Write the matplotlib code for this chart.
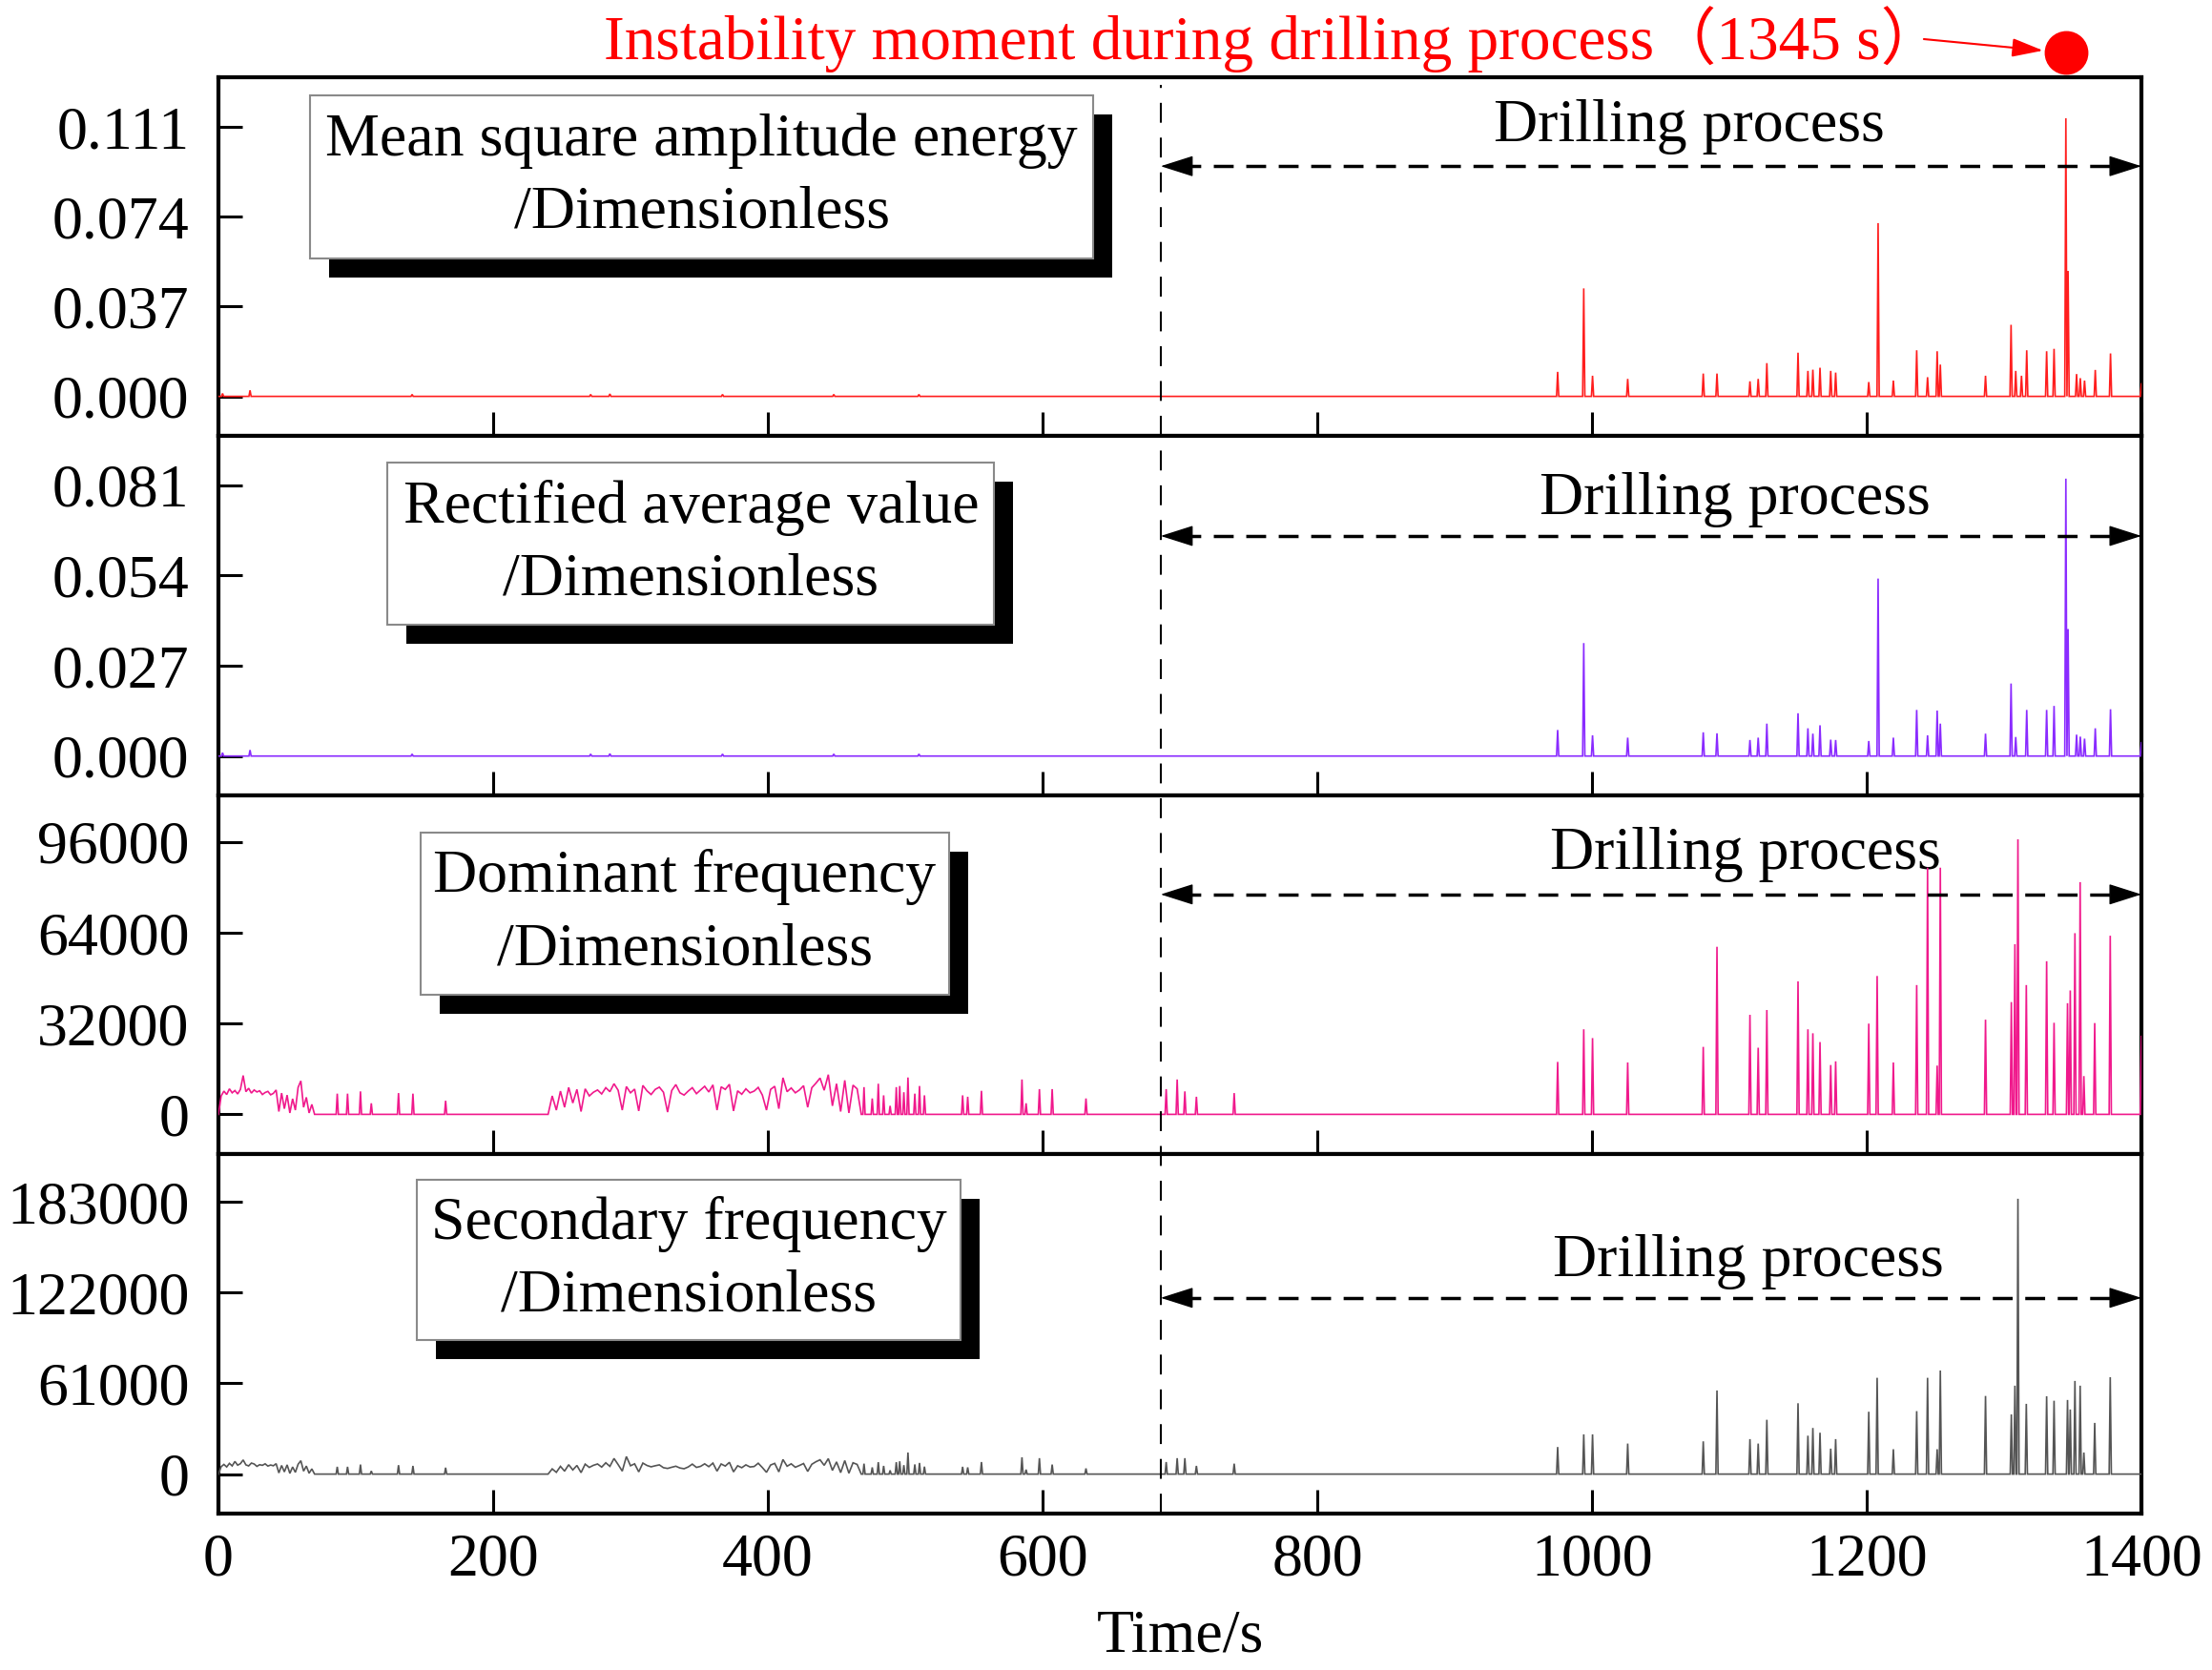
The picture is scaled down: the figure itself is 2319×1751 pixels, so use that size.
import numpy as np
import matplotlib
matplotlib.use("Agg")
import matplotlib.pyplot as plt
from matplotlib.patches import Rectangle
from matplotlib.lines import Line2D
from matplotlib import transforms

plt.rcParams['font.family'] = ['Liberation Serif', 'Noto Sans CJK SC']

# ---------------- data ----------------
x_ticks = [0, 200, 400, 600, 800, 1000, 1200, 1400]
drilling_start = 686
instability_time = 1345

panel_titles = ["Mean square amplitude energy\n/Dimensionless",
                "Rectified average value\n/Dimensionless",
                "Dominant frequency\n/Dimensionless",
                "Secondary frequency\n/Dimensionless"]
y_ticks = [[0, 0.037, 0.074, 0.111],
           [0, 0.027, 0.054, 0.081],
           [0, 32000, 64000, 96000],
           [0, 61000, 122000, 183000]]
y_ticklabels = [["0.000", "0.037", "0.074", "0.111"],
                ["0.000", "0.027", "0.054", "0.081"],
                ["0", "32000", "64000", "96000"],
                ["0", "61000", "122000", "183000"]]
y_limits = [(-0.01627, 0.1315), (-0.01178, 0.0958), (-13990, 112480), (-26530, 215040)]
line_colors = ["#FF1E1E", "#8A2BFF", "#F0198C", "#555555"]

# Early-stage small bumps (panels 1, 2)
early_t12 = [3, 23, 141, 271, 285, 367, 448, 510]
early_p1 = [0.0012, 0.0025, 0.0008, 0.0008, 0.0010, 0.0008, 0.0008, 0.0008]
early_p2 = [0.0010, 0.0018, 0.0006, 0.0006, 0.0007, 0.0006, 0.0006, 0.0006]

# Drilling-stage spikes (panels 1, 2)
drill_t12 = [975, 994, 1000.4, 1026, 1081, 1091, 1115, 1121, 1127.3, 1150, 1157.2, 1160.8,
             1166, 1173.8, 1177.4, 1201.5, 1208.3, 1219.4, 1236.4, 1244.3, 1251.3, 1253.6,
             1286.5, 1305.1, 1308.5, 1312.7, 1316.5, 1331, 1336.4, 1345, 1346.6, 1352.8,
             1355.5, 1358.6, 1366.4, 1377.5, 1400]
drill_p1 = [0.0101, 0.0445, 0.0085, 0.0072, 0.0094, 0.0094, 0.0062, 0.0072, 0.0137, 0.0180, 0.0105, 0.0110,
            0.0118, 0.0105, 0.0098, 0.0059, 0.0714, 0.0065, 0.0190, 0.0079, 0.0186, 0.0131,
            0.0085, 0.0295, 0.0105, 0.0085, 0.0190, 0.0186, 0.0196, 0.1146, 0.0517, 0.0092,
            0.0075, 0.0065, 0.0109, 0.0177, 0.0052]
drill_p2 = [0.0078, 0.0338, 0.0062, 0.0055, 0.0071, 0.0068, 0.0048, 0.0055, 0.0097, 0.0128, 0.0083, 0.0067,
            0.0092, 0.0049, 0.0048, 0.0045, 0.0531, 0.0055, 0.0138, 0.0062, 0.0136, 0.0097,
            0.0067, 0.0217, 0.0057, 0.0000, 0.0138, 0.0138, 0.0150, 0.0830, 0.0380, 0.0064,
            0.0058, 0.0052, 0.0083, 0.0140, 0.0040]

# Noisy stretches (panels 3, 4)
seg_a_t = np.arange(0, 71, 2)
seg_a_p3 = [0, 6500, 8200, 7000, 9000, 7600, 8400, 7200, 8800, 13700,
            8000, 9200, 7500, 8600, 7900, 8300, 7000, 7700, 8100, 6900,
            7400, 8600, 1000, 7500, 2000, 6800, 500, 5500, 1500, 9500,
            11800, 2500, 6000, 500, 3500, 0]
seg_a_p4 = [0, 5000, 6500, 4800, 7200, 5500, 8500, 6000, 7000, 9500,
            6200, 5500, 7400, 6800, 5200, 6300, 5900, 6900, 5400, 6100,
            5600, 7000, 800, 5800, 1500, 6200, 500, 4800, 1200, 6600,
            9000, 2000, 5400, 600, 3500, 0]
seg_b_t = np.arange(240, 469, 3)
seg_b_p3 = [0, 6500, 1500, 8200, 2500, 9500, 4000, 8800, 1000, 9000,
            6500, 7800, 8600, 7200, 9400, 8000, 10800, 8500, 1500, 9800,
            7600, 8900, 1200, 10200, 8300, 7000, 8800, 9600, 7800, 800,
            8400, 10500, 7600, 6800, 8200, 9400, 7300, 8600, 9900, 7900,
            10400, 1500, 9700, 8800, 10600, 1200, 8300, 7100, 9000, 7600,
            8200, 9500, 6800, 1500, 8800, 9900, 2000, 12900, 8000, 9300,
            7600, 8600, 10100, 2500, 9400, 11000, 12800, 8500, 14000, 3000,
            10800, 1000, 12000, 500, 10300, 9000, 0]
seg_b_p4 = [0, 3500, 1200, 5200, 2000, 6300, 2800, 5800, 1000, 6700,
            4500, 5900, 6800, 4700, 7600, 5200, 10500, 6400, 2000, 11800,
            5600, 6900, 1500, 7400, 5800, 4900, 5600, 6200, 4300, 3800,
            4600, 5300, 4100, 3600, 4800, 6700, 4500, 5200, 6900, 5000,
            7400, 2000, 6800, 5400, 7900, 1500, 5600, 4300, 6200, 4800,
            5100, 7300, 4400, 1200, 6100, 7200, 1500, 9800, 5300, 6900,
            4600, 5800, 7100, 1800, 6600, 8300, 9600, 5900, 10400, 2500,
            8200, 1000, 9100, 600, 7600, 6500, 0]

# Isolated spikes before drilling (panels 3, 4)
pre_t34 = [86.5, 94, 103.4, 111.3, 131.1, 141.6, 165.4, 470, 476, 480.4, 484.3, 489,
           493.5, 496, 499, 502, 507, 510.4, 514, 541.8, 545.5, 555.5, 585, 588, 597.7,
           607, 631.6, 690, 698, 703.6, 712, 739.5]
pre_p3 = [7300, 7300, 8100, 3900, 7500, 7300, 4800, 9600, 5600, 10800, 6700, 3000,
          9600, 10000, 7800, 13000, 7300, 10000, 6700, 6700, 6200, 8300, 12300, 3900, 8900,
          8900, 5600, 8900, 12300, 8100, 6200, 7500]
pre_p4 = [4900, 4900, 6400, 2100, 6000, 5500, 4300, 7000, 4500, 8000, 5500, 2500,
          8000, 8600, 6000, 14500, 6500, 7500, 5000, 4900, 4500, 8100, 11300, 3000, 10700,
          6400, 3800, 8100, 10700, 10700, 5500, 7000]

# Drilling-stage spikes (panels 3, 4)
drill_t34 = [975, 994, 1000.4, 1026, 1081, 1091, 1115, 1121, 1127.3, 1150, 1157.2, 1160.8,
             1166, 1173.8, 1177.4, 1201.5, 1207.6, 1219.4, 1236.4, 1244.3, 1251.3, 1253.6,
             1286.5, 1305.3, 1307.9, 1310.1, 1316.2, 1331, 1336.4, 1346.2, 1348.2, 1351.6,
             1355.4, 1358.1, 1366, 1377.3, 1400]
drill_p3 = [18500, 30000, 26900, 18300, 23800, 59100, 35100, 23500, 36800, 46900, 30000, 28600,
            25500, 17400, 18700, 32000, 48800, 18300, 45600, 87000, 17200, 87000,
            33400, 39600, 60000, 97000, 45600, 54000, 32300, 39200, 43700, 63900,
            81900, 13500, 32200, 63000, 27500]
drill_p4 = [18200, 26700, 26700, 20500, 22000, 56200, 23500, 20500, 36500, 47600, 25800, 31000,
            27800, 17100, 23500, 41900, 64700, 16700, 42300, 64700, 16700, 69600,
            52500, 40100, 59400, 185000, 47200, 52300, 49300, 49800, 43400, 62600,
            59400, 14500, 34400, 65100, 0]


def build_series(segments, spike_t, spike_v, half=0.8, t_end=1400.0):
    pts = [(0.0, 0.0)]
    for ts, vs in segments:
        pts += [(float(t), float(v)) for t, v in zip(ts, vs)]
    has_end = False
    for t, v in zip(spike_t, spike_v):
        if t >= t_end:
            pts += [(t - half, 0.0), (t, float(v))]
            has_end = True
        else:
            pts += [(t - half, 0.0), (t, float(v)), (t + half, 0.0)]
    if not has_end:
        pts.append((t_end, 0.0))
    pts.sort(key=lambda p: p[0])
    arr = np.array(pts)
    return arr[:, 0], arr[:, 1]


series = [
    build_series([], early_t12 + drill_t12, early_p1 + drill_p1),
    build_series([], early_t12 + drill_t12, early_p2 + drill_p2),
    build_series([(seg_a_t, seg_a_p3), (seg_b_t, seg_b_p3)], pre_t34 + drill_t34, pre_p3 + drill_p3),
    build_series([(seg_a_t, seg_a_p4), (seg_b_t, seg_b_p4)], pre_t34 + drill_t34, pre_p4 + drill_p4),
]

# ---------------- layout ----------------
W, H = 2319, 1751
fig = plt.figure(figsize=(W / 100, H / 100), dpi=100)
fig.patch.set_facecolor("white")
L, R = 229 / W, 2245 / W
edges_px = [81, 457, 834, 1210, 1587]

box_pos = [(0.0477, 0.4549, 0.496, 0.949),
           (0.0880, 0.4035, 0.4745, 0.9255),
           (0.1050, 0.3800, 0.445, 0.8976),
           (0.1034, 0.3860, 0.482, 0.929)]
arrow_y = [0.752, 0.7216, 0.724, 0.600]
dp_text = [(1071, 0.862), (1104, 0.822), (1112, 0.836), (1114, 0.700)]

FS = 46
axes = []
for i in range(4):
    top = 1 - edges_px[i] / H
    bot = 1 - edges_px[i + 1] / H
    ax = fig.add_axes([L, bot, R - L, top - bot])
    axes.append(ax)
    t, v = series[i]
    ax.plot(t, v, color=line_colors[i], lw=1.2, zorder=3, solid_joinstyle='miter')
    ax.set_xlim(0, 1400)
    ax.set_ylim(*y_limits[i])
    ax.set_xticks(x_ticks)
    ax.set_yticks(y_ticks[i])
    ax.set_yticklabels(y_ticklabels[i])
    ax.tick_params(axis='both', direction='in', length=18, width=2.2, labelsize=FS,
                   top=False, right=False)
    ax.tick_params(axis='y', pad=22)
    ax.tick_params(axis='x', pad=15)
    if i < 3:
        ax.tick_params(axis='x', labelbottom=False)
    for sp in ax.spines.values():
        sp.set_linewidth(3)

    # label box with shadow
    bx0, bx1, by0, by1 = box_pos[i]
    sx, sy = 20 / 2016, 20 / 376
    ax.add_patch(Rectangle((bx0 + sx, by0 - sy), bx1 - bx0, by1 - by0, transform=ax.transAxes,
                           facecolor="black", edgecolor="none", zorder=5))
    ax.add_patch(Rectangle((bx0, by0), bx1 - bx0, by1 - by0, transform=ax.transAxes,
                           facecolor="white", edgecolor="#8a8a8a", lw=1.5, zorder=6))
    ax.text((bx0 + bx1) / 2, (by0 + by1) / 2, panel_titles[i], transform=ax.transAxes,
            ha='center', va='center', fontsize=FS, linespacing=1.41, zorder=7)

    # "Drilling process" dashed double arrow
    xt = ax.get_xaxis_transform()
    ya = arrow_y[i]
    ax.plot([drilling_start + 15, 1400 - 15], [ya, ya], transform=xt, color='black',
            lw=2.5, ls=(0, (6, 3.8)), zorder=4, clip_on=False)
    for x_tip, x_from in [(1400, 1380), (drilling_start, drilling_start + 20)]:
        ax.annotate('', xy=(x_tip, ya), xytext=(x_from, ya), xycoords=xt, textcoords=xt,
                    arrowprops=dict(arrowstyle='-|>,head_length=2.2,head_width=0.7',
                                    color='black', lw=1, shrinkA=0, shrinkB=0,
                                    mutation_scale=10), zorder=4, annotation_clip=False)
    ax.text(dp_text[i][0], dp_text[i][1], "Drilling process", transform=xt,
            ha='center', va='center', fontsize=FS, zorder=2)

# vertical dashed line at the start of drilling, across all panels
blend = transforms.blended_transform_factory(axes[0].transData, fig.transFigure)
fig.add_artist(Line2D([drilling_start, drilling_start],
                      [1 - edges_px[4] / H, 1 - (edges_px[0] + 8) / H],
                      transform=blend, color='black', lw=1.5, ls=(0, (10, 7.5)), zorder=10))

# instability annotation
ax0 = axes[0]
xt0 = ax0.get_xaxis_transform()
ax0.plot([instability_time], [1.069], 'o', ms=32, color='red', transform=xt0, clip_on=False,
         zorder=10)
ax0.annotate('', xy=(1328.4, 1.0745), xytext=(1241.6, 1.1064), xycoords=xt0, textcoords=xt0,
             arrowprops=dict(arrowstyle='-|>,head_length=2.0,head_width=0.6', color='red',
                             lw=1.5, shrinkA=0, shrinkB=0, mutation_scale=10),
             annotation_clip=False)
fig.text(633 / W, 1 - 62 / H, "Instability moment during drilling process（1345 s）",
         color='red', fontsize=47, ha='left', va='baseline')

fig.text((L + R) / 2, 1 - 1716 / H, "Time/s", ha='center', va='center', fontsize=FS)

fig.savefig("out.png", dpi=100, facecolor="white")
